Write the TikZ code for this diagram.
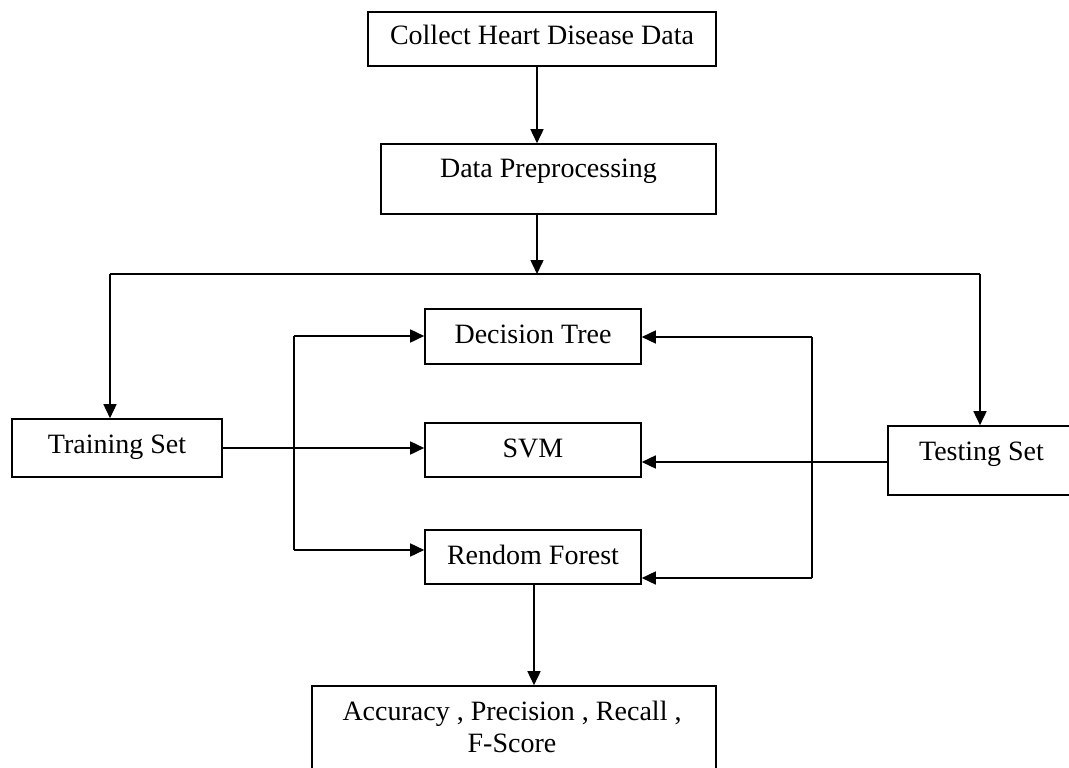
\documentclass[tikz,border=0pt]{standalone}
\usepackage{fontspec}
\setmainfont{Liberation Serif}
\usetikzlibrary{arrows.meta}
\begin{document}
\begin{tikzpicture}[x=1pt,y=-1pt,
  every node/.style={font=\fontsize{28}{32}\selectfont},
  stepbox/.style={draw, line width=1.6pt, inner sep=0pt, text height=20pt},
  link/.style={line width=1.6pt},
  arr/.style={link, -{Triangle[length=14pt,width=13pt]}}]
\useasboundingbox (0,0) rectangle (1069,768);
\clip (0,0) rectangle (1069,768);

% process boxes
\node[stepbox, minimum width=348pt, minimum height=54pt, text depth=8pt]  (collect) at (542,39)    {Collect Heart Disease Data};
\node[stepbox, minimum width=335pt, minimum height=70pt, text depth=24pt] (prep)    at (548.5,179) {Data Preprocessing};
\node[stepbox, minimum width=210pt, minimum height=58pt, text depth=10pt] (train)   at (117,448)   {Training Set};
\node[stepbox, minimum width=187pt, minimum height=69pt, text depth=20pt] (test)    at (981.5,460.5) {Testing Set};
\node[stepbox, minimum width=216pt, minimum height=55pt, text depth=7pt]  (dt)      at (533,336.5) {Decision Tree};
\node[stepbox, minimum width=216pt, minimum height=54pt, text depth=6pt]  (svm)     at (533,450)   {SVM};
\node[stepbox, minimum width=216pt, minimum height=54pt, text depth=6pt]  (rf)      at (533,557)   {Rendom Forest};
\node[draw, line width=1.6pt, minimum width=404pt, minimum height=114pt] (acc) at (514,743) {};
% the base anchor of a two-line node sits on its last line
\node[anchor=base, align=center, inner sep=0pt] (acctext) at (512,752) {Accuracy , Precision , Recall ,\\ F-Score};

% junction points
\coordinate (split) at (537,274);
\coordinate (tl) at (110,274);
\coordinate (tr) at (980,274);
\coordinate (lb1) at (294,336);
\coordinate (lb2) at (294,550);
\coordinate (rb1) at (812,337);
\coordinate (rb2) at (812,578);

% top chain
\draw[arr] (collect.south -| split) -- (prep.north -| split);
\draw[arr] (prep.south -| split) -- (split);
\draw[link] (tl) -- (tr);
\draw[arr] (tl) -- (train.north -| tl);
\draw[arr] (tr) -- (test.north -| tr);

% training side
\draw[link] (lb1) -- (lb2);
\draw[arr] (train.east) -- (svm.west |- train.east);
\draw[arr] (lb1) -- (dt.west |- lb1);
\draw[arr] (lb2) -- (rf.west |- lb2);

% testing side
\draw[link] (rb1) -- (rb2);
\draw[arr] (test.west |- 0,462) -- (svm.east |- 0,462);
\draw[arr] (rb1) -- (dt.east |- rb1);
\draw[arr] (rb2) -- (rf.east |- rb2);

% evaluation
\draw[arr] ([xshift=1pt]rf.south) -- ([xshift=1pt]rf.south |- acc.north);
\end{tikzpicture}
\end{document}
